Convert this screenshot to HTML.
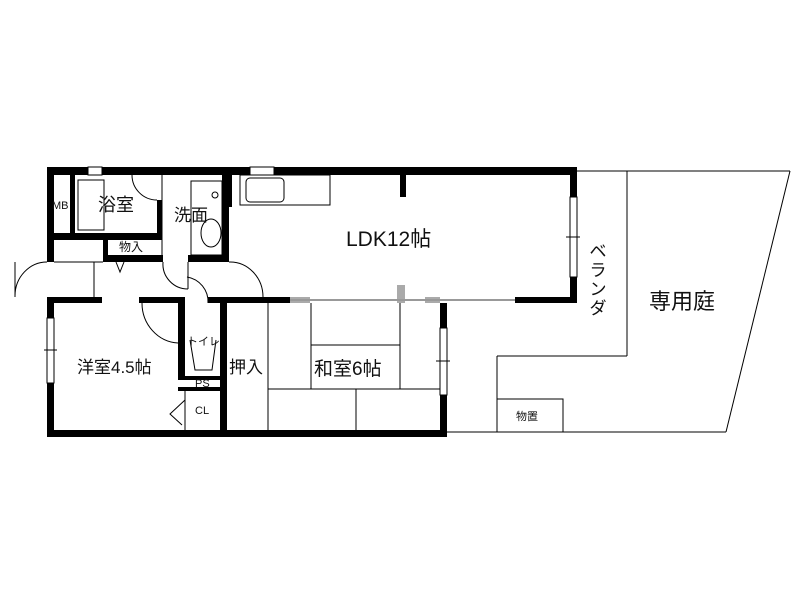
<!DOCTYPE html>
<html><head><meta charset="utf-8"><style>body{margin:0;background:#fff}svg{display:block}text{font-family:"Liberation Sans","Noto Sans CJK JP",sans-serif;fill:#111}</style></head><body>
<svg width="800" height="600" viewBox="0 0 800 600">
<g fill="#000">
<rect x="47" y="167" width="530" height="8"/>
<rect x="47" y="167" width="7" height="95"/>
<rect x="47" y="297" width="7" height="140"/>
<rect x="70" y="175" width="5" height="60"/>
<rect x="47" y="233" width="115" height="7"/>
<rect x="157" y="200" width="5" height="40"/>
<rect x="103" y="240" width="5" height="22"/>
<rect x="103" y="255" width="42" height="7"/>
<rect x="145" y="255" width="18" height="7"/>
<rect x="188" y="255" width="40" height="7"/>
<rect x="222" y="167" width="7" height="95"/>
<rect x="222" y="175" width="10" height="32"/>
<rect x="47" y="297" width="55" height="6"/>
<rect x="139" y="297" width="41" height="6"/>
<rect x="208" y="297" width="82" height="6"/>
<rect x="515" y="297" width="62" height="6"/>
<rect x="570" y="167" width="7" height="30"/>
<rect x="570" y="277" width="7" height="26"/>
<rect x="400" y="167" width="6" height="30"/>
<rect x="47" y="430" width="400" height="7"/>
<rect x="178" y="297" width="7" height="80"/>
<rect x="220" y="297" width="7" height="137"/>
<rect x="178" y="376" width="49" height="4"/>
<rect x="178" y="387" width="49" height="4"/>
<rect x="440" y="303" width="7" height="25"/>
<rect x="440" y="395" width="7" height="42"/>
</g>
<g fill="#aaa">
<rect x="290" y="297" width="20" height="6"/>
<rect x="397" y="285" width="8" height="18"/>
<rect x="425" y="297" width="15" height="6"/>
</g>
<g fill="none" stroke="#000" stroke-width="1">
<rect x="88" y="167" width="14" height="8" fill="#fff"/>
<rect x="250" y="167" width="24" height="8" fill="#fff"/>
<rect x="570" y="197" width="7" height="80" fill="#fff"/><line x1="566" y1="237" x2="580" y2="237"/>
<rect x="47" y="318" width="7" height="65" fill="#fff"/><line x1="44" y1="350" x2="57" y2="350"/>
<rect x="440" y="328" width="7" height="67" fill="#fff"/><line x1="436" y1="361" x2="450" y2="361"/>
<rect x="78" y="180" width="26" height="50"/>
<path d="M132 175 A25 25 0 0 0 157 200"/>
<line x1="162" y1="175" x2="162" y2="255"/>
<rect x="191" y="181" width="31" height="74"/>
<ellipse cx="211" cy="233" rx="10" ry="14"/>
<circle cx="215" cy="195" r="3"/>
<rect x="246" y="178" width="38" height="24" rx="4"/>
<rect x="240" y="175" width="90" height="30"/>
<line x1="94" y1="262" x2="94" y2="297"/>
<line x1="54" y1="262" x2="103" y2="262"/>
<path d="M116 262 L120 272 L124 262" />
<path d="M163 262 A25 25 0 0 0 188 289"/><line x1="188" y1="262" x2="188" y2="289"/>
<path d="M187 277 A25 25 0 0 1 208 303"/>
<path d="M229 262 A33 35 0 0 1 263 297"/>
<path d="M47 262 A32 34 0 0 0 15 296"/><line x1="15" y1="262" x2="15" y2="297"/>
<line x1="290" y1="300" x2="515" y2="300" stroke="#999" stroke-width="2"/>
<path d="M142 303 A38 40 0 0 0 178 343"/>
<path d="M190 340 L195 370 L212 370 L216 340"/>
<path d="M185 400 L170 414 L182 425"/>
<line x1="185" y1="391" x2="185" y2="430"/>
<line x1="268" y1="303" x2="268" y2="430"/>
<line x1="311" y1="303" x2="311" y2="389"/>
<line x1="400" y1="303" x2="400" y2="389"/>
<line x1="311" y1="345" x2="400" y2="345"/>
<line x1="268" y1="389" x2="440" y2="389"/>
<line x1="356" y1="389" x2="356" y2="430"/>
<line x1="577" y1="171" x2="790" y2="171"/>
<line x1="627" y1="171" x2="627" y2="356"/>
<line x1="497" y1="356" x2="627" y2="356"/>
<line x1="497" y1="356" x2="497" y2="432"/>
<line x1="447" y1="432" x2="726" y2="432"/>
<line x1="790" y1="171" x2="726" y2="432"/>
<rect x="497" y="399" width="66" height="33"/>
</g>
<text x="52" y="209" font-size="11">MB</text>
<text x="98" y="211" font-size="18">浴室</text>
<text x="174" y="221" font-size="17">洗面</text>
<text x="119" y="251" font-size="12">物入</text>
<text x="346" y="246" font-size="21">LDK12帖</text>
<g font-size="17" text-anchor="middle">
<text x="598" y="257">ベ</text>
<text x="598" y="276">ラ</text>
<text x="598" y="295">ン</text>
<text x="598" y="314">ダ</text>
</g>
<text x="649" y="309" font-size="22">専用庭</text>
<text x="77" y="373" font-size="17">洋室4.5帖</text>
<text x="187" y="345" font-size="11">トイレ</text>
<text x="195" y="387" font-size="11">PS</text>
<text x="195" y="414" font-size="11">CL</text>
<text x="229" y="373" font-size="17">押入</text>
<text x="314" y="375" font-size="19">和室6帖</text>
<text x="516" y="420" font-size="11">物置</text>
</svg>
</body></html>
